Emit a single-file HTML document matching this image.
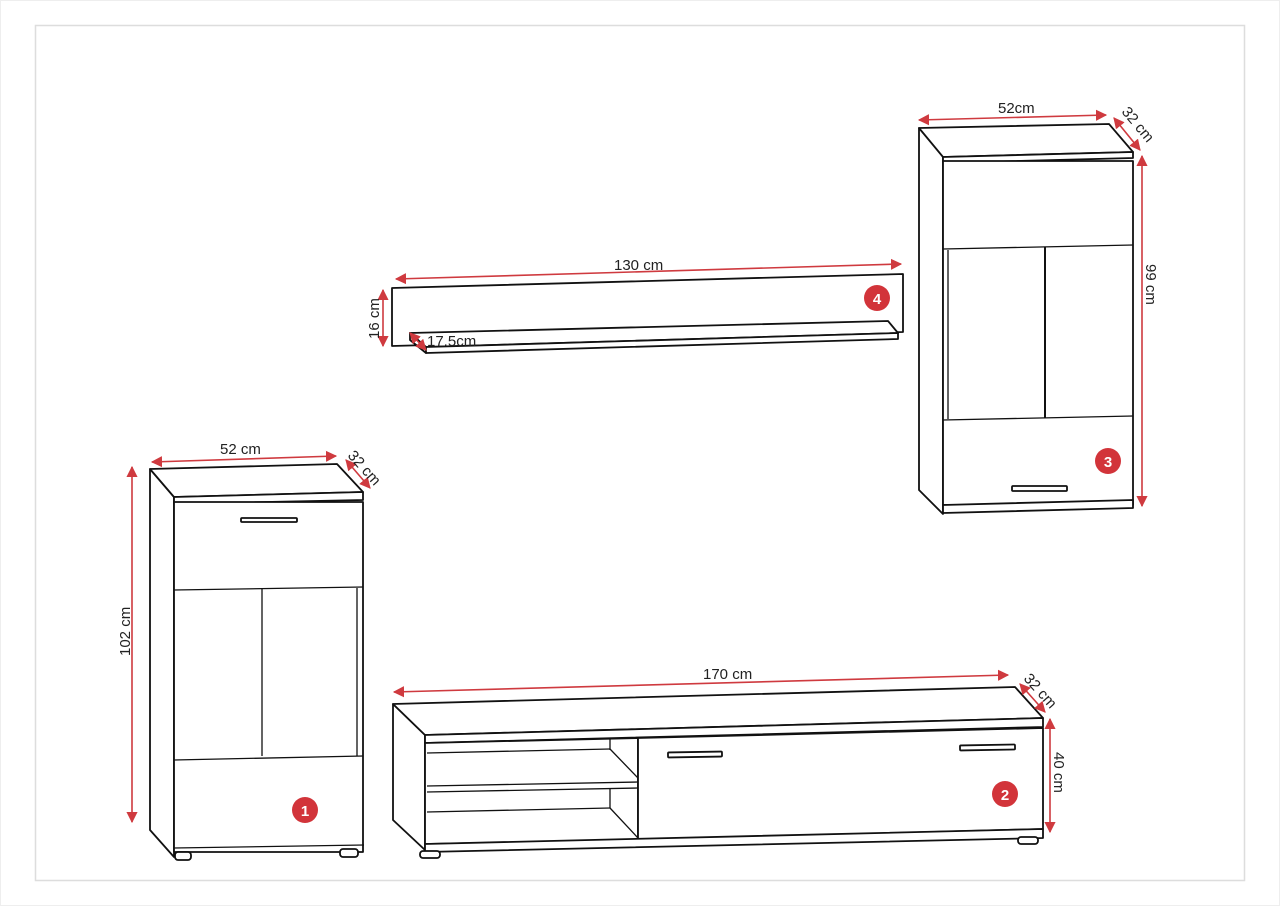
<!DOCTYPE html>
<html><head><meta charset="utf-8"><style>
html,body{margin:0;padding:0;background:#fff;}
svg{display:block}
text{font-family:"Liberation Sans",sans-serif;font-size:15px;fill:#222}
.k{fill:#fff;stroke:#111;stroke-width:1.8;stroke-linejoin:round}
.t{fill:none;stroke:#111;stroke-width:1.3}
.r{stroke:#cf3a3f;stroke-width:1.6;fill:none}
.bt{fill:#fff;font-weight:bold;font-size:15px;text-anchor:middle}
</style></head><body>
<svg width="1280" height="906" viewBox="0 0 1280 906" xmlns="http://www.w3.org/2000/svg">
<defs>
<marker id="a" viewBox="0 0 10 10" refX="9" refY="5" markerWidth="7" markerHeight="7" orient="auto-start-reverse"><path d="M0,0 L10,5 L0,10 z" fill="#cf3a3f"/></marker>
</defs>
<rect x="0.5" y="0.5" width="1279" height="905" fill="none" stroke="#eee"/>
<rect x="35.5" y="25.5" width="1209" height="855" fill="none" stroke="#ddd" stroke-width="1.5"/>

<!-- Cabinet 1 -->
<polygon class="k" points="150,469 174,497 174,857 150,830"/>
<polygon class="k" points="150,469 337,464 363,492 174,497"/>
<polygon class="k" points="174,497 363,492 363,500 174,504"/>
<rect class="k" x="174" y="502" width="189" height="350"/>
<line class="t" x1="174" y1="590" x2="363" y2="587"/>
<line class="t" x1="262" y1="589" x2="262" y2="756"/>
<line class="t" x1="357" y1="588" x2="357" y2="756"/>
<line class="t" x1="174" y1="760" x2="363" y2="756"/>
<line class="t" x1="174" y1="848" x2="364" y2="845"/>
<rect class="k" x="241" y="518" width="56" height="4" rx="1"/>
<rect class="k" x="175" y="852" width="16" height="8" rx="3"/>
<rect class="k" x="340" y="849" width="18" height="8" rx="3"/>
<circle cx="305" cy="810" r="13" fill="#d2343a"/><text class="bt" x="305" y="816">1</text>
<line class="r" x1="152" y1="462" x2="336" y2="456" marker-start="url(#a)" marker-end="url(#a)"/>
<text x="220" y="454">52 cm</text>
<line class="r" x1="346" y1="460" x2="370" y2="488" marker-start="url(#a)" marker-end="url(#a)"/>
<text x="0" y="0" transform="translate(347,456) rotate(48)">32 cm</text>
<line class="r" x1="132" y1="467" x2="132" y2="822" marker-start="url(#a)" marker-end="url(#a)"/>
<text x="0" y="0" transform="translate(130,656) rotate(-90)">102 cm</text>

<!-- TV unit 2 -->
<polygon class="k" points="393,704 425,735 425,850 393,820"/>
<polygon class="k" points="393,704 1015,687 1043,718 425,735"/>
<polygon class="k" points="425,735 1043,718 1043,727 425,743"/>
<polygon class="k" points="425,743 638,738 638,840 425,844"/>
<line class="t" x1="427" y1="753" x2="610" y2="749"/>
<line class="t" x1="610" y1="739" x2="610" y2="750"/>
<line class="t" x1="610" y1="749" x2="638" y2="778"/>
<line class="t" x1="427" y1="786" x2="638" y2="782"/>
<line class="t" x1="427" y1="792" x2="638" y2="788"/>
<line class="t" x1="427" y1="812" x2="610" y2="808"/>
<line class="t" x1="610" y1="789" x2="610" y2="808"/>
<line class="t" x1="610" y1="808" x2="638" y2="838"/>
<polygon class="k" points="638,738 1043,728 1043,829 638,840"/>
<polygon class="k" points="425,844 1043,829 1043,838 425,852"/>
<rect class="k" x="668" y="752" width="54" height="5" rx="1" transform="rotate(-1 695 755)"/>
<rect class="k" x="960" y="745" width="55" height="5" rx="1" transform="rotate(-1 987 747)"/>
<rect class="k" x="420" y="851" width="20" height="7" rx="3"/>
<rect class="k" x="1018" y="837" width="20" height="7" rx="3"/>
<circle cx="1005" cy="794" r="13" fill="#d2343a"/><text class="bt" x="1005" y="800">2</text>
<line class="r" x1="394" y1="692" x2="1008" y2="675" marker-start="url(#a)" marker-end="url(#a)"/>
<text x="703" y="679">170 cm</text>
<line class="r" x1="1020" y1="684" x2="1045" y2="712" marker-start="url(#a)" marker-end="url(#a)"/>
<text x="0" y="0" transform="translate(1023,679) rotate(48)">32 cm</text>
<line class="r" x1="1050" y1="719" x2="1050" y2="832" marker-start="url(#a)" marker-end="url(#a)"/>
<text x="0" y="0" transform="translate(1054,752) rotate(90)">40 cm</text>

<!-- Cabinet 3 -->
<polygon class="k" points="919,128 943,156 943,514 919,490"/>
<polygon class="k" points="919,128 1109,124 1133,152 943,157"/>
<polygon class="k" points="943,157 1133,152 1133,158 943,163"/>
<rect class="k" x="943" y="161" width="190" height="344"/>
<line class="t" x1="943" y1="249" x2="1133" y2="245"/>
<line class="t" x1="948" y1="250" x2="948" y2="419"/>
<line class="t" x1="1045" y1="247" x2="1045" y2="418" style="stroke-width:2"/>
<line class="t" x1="943" y1="420" x2="1133" y2="416"/>
<polygon class="k" points="943,505 1133,500 1133,508 943,513"/>
<rect class="k" x="1012" y="486" width="55" height="5" rx="1"/>
<circle cx="1108" cy="461" r="13" fill="#d2343a"/><text class="bt" x="1108" y="467">3</text>
<line class="r" x1="919" y1="120" x2="1106" y2="115" marker-start="url(#a)" marker-end="url(#a)"/>
<text x="998" y="113">52cm</text>
<line class="r" x1="1114" y1="118" x2="1140" y2="150" marker-start="url(#a)" marker-end="url(#a)"/>
<text x="0" y="0" transform="translate(1121,112) rotate(50)">32 cm</text>
<line class="r" x1="1142" y1="156" x2="1142" y2="506" marker-start="url(#a)" marker-end="url(#a)"/>
<text x="0" y="0" transform="translate(1146,264) rotate(90)">99 cm</text>

<!-- Shelf 4 -->
<polygon class="k" points="392,288 903,274 903,332 392,346"/>
<polygon class="k" points="410,333 888,321 898,333 426,347"/>
<polygon class="k" points="410,333 426,347 426,353 410,340"/>
<polygon class="k" points="426,347 898,333 898,339 426,353"/>
<circle cx="877" cy="298" r="13" fill="#d2343a"/><text class="bt" x="877" y="304">4</text>
<line class="r" x1="396" y1="279" x2="901" y2="264" marker-start="url(#a)" marker-end="url(#a)"/>
<text x="614" y="270">130 cm</text>
<line class="r" x1="383" y1="290" x2="383" y2="346" marker-start="url(#a)" marker-end="url(#a)"/>
<text x="0" y="0" transform="translate(379,339) rotate(-90)">16 cm</text>
<line class="r" x1="410" y1="333" x2="426" y2="350" marker-start="url(#a)" marker-end="url(#a)"/>
<text x="427" y="346">17.5cm</text>
</svg>
</body></html>
